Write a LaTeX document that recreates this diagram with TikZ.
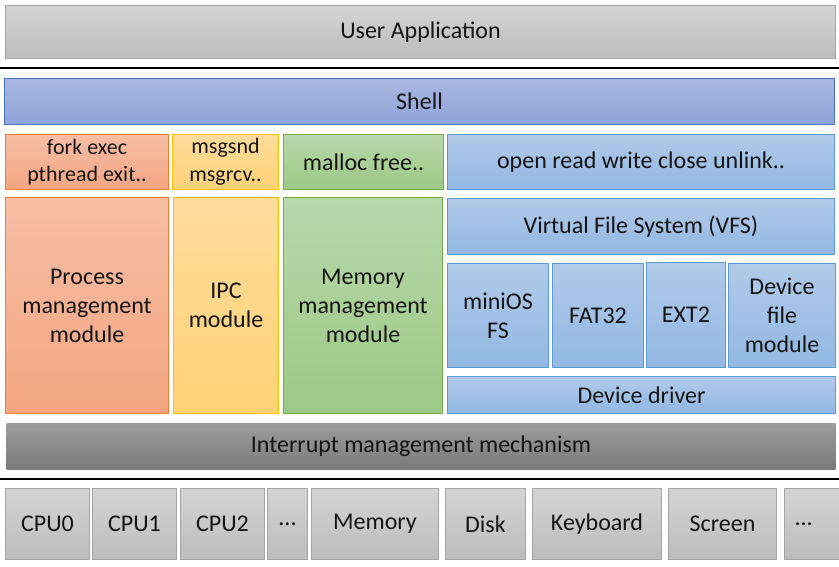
\documentclass[tikz,border=0pt]{standalone}
\usepackage{fontspec}
\setmainfont{Carlito}
\begin{document}
\begin{tikzpicture}[x=1pt,y=-1pt,
  base/.style={anchor=north west,inner sep=0pt,line width=1pt,align=center,
    font=\fontsize{24}{29}\selectfont,text=black!92},
  graybox/.style={base,draw={rgb,255:red,165;green,165;blue,165},
    top color={rgb,255:red,212;green,212;blue,212},bottom color={rgb,255:red,188;green,188;blue,188}},
  shellbox/.style={base,draw={rgb,255:red,68;green,114;blue,196},
    top color={rgb,255:red,170;green,184;blue,224},bottom color={rgb,255:red,142;green,163;blue,216}},
  orangebox/.style={base,draw={rgb,255:red,237;green,125;blue,49},
    top color={rgb,255:red,247;green,190;blue,166},bottom color={rgb,255:red,244;green,165;blue,128}},
  yellowbox/.style={base,draw={rgb,255:red,255;green,192;blue,0},
    top color={rgb,255:red,255;green,220;blue,156},bottom color={rgb,255:red,255;green,210;blue,118}},
  greenbox/.style={base,draw={rgb,255:red,112;green,173;blue,71},
    top color={rgb,255:red,184;green,216;blue,170},bottom color={rgb,255:red,156;green,200;blue,134}},
  bluebox/.style={base,draw={rgb,255:red,91;green,155;blue,213},
    top color={rgb,255:red,177;green,202;blue,233},bottom color={rgb,255:red,146;green,184;blue,226}},
  intbox/.style={base,top color={rgb,255:red,156;green,156;blue,156},bottom color={rgb,255:red,121;green,121;blue,121}},
  sepline/.style={line width=1.3pt,black}
]
\useasboundingbox (0,0) rectangle (839,566);
% top
\node[graybox,minimum width=830pt,minimum height=53pt] (app) at (5,5) {User Application};
\coordinate (s1l) at (0,68); \coordinate (s1r) at (839,68);
\draw[sepline] (s1l) -- (s1r);
\node[shellbox,minimum width=830pt,minimum height=46pt] (shell) at (4,78) {Shell};
% syscall row
\node[orangebox,minimum width=163pt,minimum height=55pt,font=\fontsize{22}{27}\selectfont] (fork) at (5,134) {fork exec\\pthread exit..};
\node[yellowbox,minimum width=106pt,minimum height=55pt,font=\fontsize{22}{28}\selectfont] (msg) at (172,134) {msgsnd\\msgrcv..};
\node[greenbox,minimum width=160pt,minimum height=55pt] (malloc) at (283,134) {malloc free..};
\node[bluebox,minimum width=387pt,minimum height=55pt] (open) at (447,134) {open read write close unlink..};
% modules
\node[orangebox,minimum width=163pt,minimum height=216pt] (proc) at (5,197) {Process\\management\\module};
\node[yellowbox,minimum width=105pt,minimum height=216pt] (ipc) at (173,197) {IPC\\module};
\node[greenbox,minimum width=159pt,minimum height=216pt] (mem) at (283,197) {Memory\\management\\module};
\node[bluebox,minimum width=387pt,minimum height=56pt] (vfs) at (447,198) {Virtual File System (VFS)};
\node[bluebox,minimum width=101pt,minimum height=104pt] (minios) at (447,263) {miniOS\\FS};
\node[bluebox,minimum width=91pt,minimum height=104pt] (fat) at (552,263) {FAT32};
\node[bluebox,minimum width=79pt,minimum height=105pt] (ext) at (646,262) {EXT2};
\node[bluebox,minimum width=107pt,minimum height=104pt] (devfile) at (728,263) {Device\\file\\module};
\node[bluebox,minimum width=388pt,minimum height=37pt] (drv) at (447,376) {Device driver};
% interrupt
\node[intbox,minimum width=829pt,minimum height=46pt] (intr) at (6,423) {Interrupt management mechanism};
\coordinate (s2l) at (0,479); \coordinate (s2r) at (839,479);
\draw[sepline] (s2l) -- (s2r);
% hardware
\node[graybox,minimum width=84pt,minimum height=71pt] (cpu0) at (5,488) {CPU0};
\node[graybox,minimum width=84pt,minimum height=71pt] (cpu1) at (92,488) {CPU1};
\node[graybox,minimum width=84pt,minimum height=71pt] (cpu2) at (180,488) {CPU2};
\node[graybox,minimum width=40pt,minimum height=71pt] (dots1) at (267,488) {...};
\node[graybox,minimum width=127pt,minimum height=71pt] (memory) at (311,488) {Memory};
\node[graybox,minimum width=80pt,minimum height=71pt] (disk) at (445,488) {Disk};
\node[graybox,minimum width=129pt,minimum height=71pt] (kbd) at (532,488) {Keyboard};
\node[graybox,minimum width=108pt,minimum height=71pt] (screen) at (668,488) {Screen};
\node[graybox,minimum width=60pt,minimum height=71pt,text width=50pt,align=left] (dots2) at (784,488) {\hspace*{5pt}...};
\end{tikzpicture}
\end{document}
